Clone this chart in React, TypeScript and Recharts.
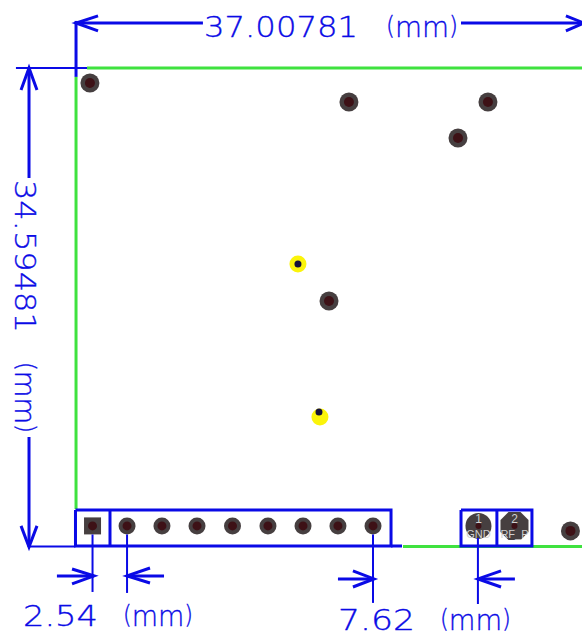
import React from "react";
import { ScatterChart, Scatter, XAxis, YAxis } from "recharts";

type Pt = { x: number; y: number; label?: string };
const pts = (a: number[][]): Pt[] => a.map(([x, y]) => ({ x, y }));

// All positions are board millimetres, origin at the board's lower-left corner.
const boardOutline = [
  [[0.84, 34.58], [36.84, 34.58]],
  [[0.04, 33.94], [0.04, 2.74]],
  [[23.82, 0.04], [36.84, 0.04]],
];

const thinDims = [
  [[-4.33, 34.58], [0.84, 34.58]],
  [[-3.35, 0.04], [0.0, 0.04]],
  [[1.24, 0.9], [1.24, -3.25]],
  [[3.75, 0.9], [3.75, -3.32]],
  [[21.64, 0.9], [21.64, -4.04]],
  [[29.27, 0.65], [29.27, -4.12]],
];

const dimShafts = [
  [[9.27, 37.83], [0.04, 37.83]],
  [[28.04, 37.83], [36.98, 37.83]],
  [[0.04, 37.98], [0.04, 33.94]],
  [[-3.38, 34.58], [-3.38, 26.64]],
  [[-3.38, 7.94], [-3.38, 0.0]],
  [[-1.35, -2.09], [1.35, -2.09]],
  [[3.75, -2.09], [6.44, -2.09]],
  [[19.09, -2.31], [21.71, -2.31]],
  [[29.27, -2.31], [31.96, -2.31]],
];

const arrowHeads = [
  [[1.64, 38.34], [0.04, 37.83], [1.64, 37.26]],
  [[35.67, 38.34], [36.98, 37.83], [35.67, 37.26]],
  [[-3.96, 33.0], [-3.38, 34.58], [-2.8, 33.0]],
  [[-3.96, 1.52], [-3.38, 0.0], [-2.8, 1.52]],
  [[-0.25, -1.59], [1.35, -2.09], [-0.25, -2.67]],
  [[5.42, -1.52], [3.75, -2.09], [5.42, -2.6]],
  [[20.18, -1.73], [21.71, -2.31], [20.18, -2.89]],
  [[30.95, -1.73], [29.27, -2.31], [30.95, -2.89]],
];

const componentBoxes = [
  [[0, 2.67], [22.95, 2.67], [22.95, 0.07], [0, 0.07], [0, 2.67]],
  [[2.51, 2.67], [2.51, 0.07]],
  [[22.95, 0.07], [23.75, 0.07]],
  [[28.04, 2.67], [33.2, 2.67], [33.2, 0.07], [28.04, 0.07], [28.04, 2.67]],
  [[30.65, 2.67], [30.65, 0.07]],
];

const mountingHoles = pts([
  [1.05, 33.5], [19.89, 32.13], [30.0, 32.13], [27.82, 29.53], [18.44, 17.76], [36.0, 1.16],
]);
const headerPins = pts([
  [3.75, 1.52], [6.29, 1.52], [8.84, 1.52], [11.42, 1.52],
  [14.0, 1.52], [16.55, 1.52], [19.09, 1.52], [21.64, 1.52],
]);
const squarePin = pts([[1.24, 1.52]]);
const yellowPads = pts([[16.18, 20.43], [17.78, 9.39]]);
const viaHoles = pts([[16.18, 20.43], [17.71, 9.75]]);
const roundTerminal = [{ x: 29.31, y: 1.52, label: "1", net: "GND" }];
const octTerminal = [{ x: 31.93, y: 1.52, label: "2", net: "RF_P" }];

const horizontalLabels: Pt[] = [
  { x: 9.35, y: 36.82, label: "37.00781" },
  { x: -3.82, y: -5.7, label: "2.54" },
  { x: 19.09, y: -6.0, label: "7.62" },
];
const verticalLabels: Pt[] = [{ x: -4.4, y: 26.5, label: "34.59481" }];
const UNIT = "mm";

// Horizontal layout of each label: width of the number, offset and width of the unit.
const labelFit: Record<string, number[]> = {
  "37.00781": [154, 182, 72],
  "2.54": [75, 100, 70],
  "7.62": [77, 102, 71],
  "34.59481": [153, 182, 71],
};

const BLUE = "#0a0ae6";
const GREEN = "#3fe23f";
const PAD = "#463f40";
const HOLE = "#3d1116";
const none = () => null;

const Poly = (d: number[][], key: string, stroke: string, w: number) => (
  <Scatter
    key={key}
    data={pts(d)}
    line={{ stroke, strokeWidth: w }}
    shape={none as any}
    isAnimationActive={false}
  />
);

const labelStyle = {
  fontFamily: "'DejaVu Sans'",
  fontWeight: 200,
  fontSize: 29,
  fill: BLUE,
  stroke: BLUE,
  strokeWidth: 0.35,
} as const;

const LabelBody = ({ cx, label }: { cx: number; label: string }) => {
  const [w, off, uw] = labelFit[label];
  return (
    <>
      <tspan textLength={w} lengthAdjust="spacingAndGlyphs">{label}</tspan>
      <tspan x={cx + off} textLength={uw} lengthAdjust="spacingAndGlyphs">
        <tspan fontSize={24} dy={-3}>(</tspan>
        <tspan dy={3}>{UNIT}</tspan>
        <tspan fontSize={24} dy={-3}>)</tspan>
      </tspan>
    </>
  );
};

const HLabel = (p: any) => (
  <text x={p.cx} y={p.cy} {...labelStyle}>
    <LabelBody cx={p.cx} label={p.payload.label} />
  </text>
);
const VLabel = (p: any) => (
  <text x={p.cx} y={p.cy} transform={`rotate(90 ${p.cx} ${p.cy})`} {...labelStyle}>
    <LabelBody cx={p.cx} label={p.payload.label} />
  </text>
);

const Hole = (p: any) => (
  <g>
    <circle cx={p.cx} cy={p.cy} r={9.5} fill={PAD} />
    <circle cx={p.cx} cy={p.cy} r={5} fill={HOLE} />
  </g>
);
const Pin = (p: any) => (
  <g>
    <circle cx={p.cx} cy={p.cy} r={8.5} fill={PAD} />
    <circle cx={p.cx} cy={p.cy} r={4.5} fill={HOLE} />
  </g>
);
const SquarePin = (p: any) => (
  <g>
    <rect x={p.cx - 8.5} y={p.cy - 8.5} width={17} height={17} fill={PAD} />
    <circle cx={p.cx} cy={p.cy} r={4.5} fill={HOLE} />
  </g>
);
const YellowPad = (p: any) => <circle cx={p.cx} cy={p.cy} r={8.5} fill="#fbf40a" />;
const ViaHole = (p: any) => <circle cx={p.cx} cy={p.cy} r={3.5} fill="#14103a" />;

const termText = {
  fontFamily: "'Liberation Sans'",
  fill: "#cfcfcf",
  textAnchor: "middle",
} as const;
const TermLabels = (p: any) => (
  <g>
    <circle cx={p.cx} cy={p.cy} r={3} fill={HOLE} />
    <text x={p.cx} y={p.cy - 3} fontSize={12} {...termText}>{p.payload.label}</text>
    <text x={p.cx} y={p.cy + 12} fontSize={11} {...termText}>{p.payload.net}</text>
  </g>
);
const RoundTerm = (p: any) => (
  <g>
    <circle cx={p.cx} cy={p.cy} r={13} fill={PAD} />
    <TermLabels {...p} />
  </g>
);
const OctTerm = (p: any) => {
  const r = 14;
  const s = 6;
  const { cx: x, cy: y } = p;
  const d = `M${x - s} ${y - r}L${x + s} ${y - r}L${x + r} ${y - s}L${x + r} ${y + s}L${x + s} ${y + r}L${x - s} ${y + r}L${x - r} ${y + s}L${x - r} ${y - s}Z`;
  return (
    <g>
      <path d={d} fill={PAD} />
      <TermLabels {...p} />
    </g>
  );
};

export default function App() {
  return (
    <div style={{ position: "absolute", left: 0, top: 0, width: 582, height: 632, background: "#fff" }}>
      <ScatterChart width={582} height={632} margin={{ top: 0, right: 0, bottom: 0, left: 0 }}>
        <XAxis type="number" dataKey="x" domain={[-5.49, 36.84]} hide allowDataOverflow />
        <YAxis type="number" dataKey="y" domain={[-6.14, 39.49]} hide allowDataOverflow />
        {boardOutline.map((d, i) => Poly(d, `g${i}`, GREEN, 3))}
        <Scatter data={mountingHoles} shape={Hole} isAnimationActive={false} />
        <Scatter data={headerPins} shape={Pin} isAnimationActive={false} />
        <Scatter data={squarePin} shape={SquarePin} isAnimationActive={false} />
        <Scatter data={yellowPads} shape={YellowPad} isAnimationActive={false} />
        <Scatter data={viaHoles} shape={ViaHole} isAnimationActive={false} />
        <Scatter data={roundTerminal} shape={RoundTerm} isAnimationActive={false} />
        <Scatter data={octTerminal} shape={OctTerm} isAnimationActive={false} />
        {thinDims.map((d, i) => Poly(d, `t${i}`, BLUE, 2))}
        {dimShafts.map((d, i) => Poly(d, `s${i}`, BLUE, 3))}
        {arrowHeads.map((d, i) => Poly(d, `a${i}`, BLUE, 3))}
        {componentBoxes.map((d, i) => Poly(d, `b${i}`, BLUE, 3))}
        <Scatter data={horizontalLabels} shape={HLabel} isAnimationActive={false} />
        <Scatter data={verticalLabels} shape={VLabel} isAnimationActive={false} />
      </ScatterChart>
    </div>
  );
}
